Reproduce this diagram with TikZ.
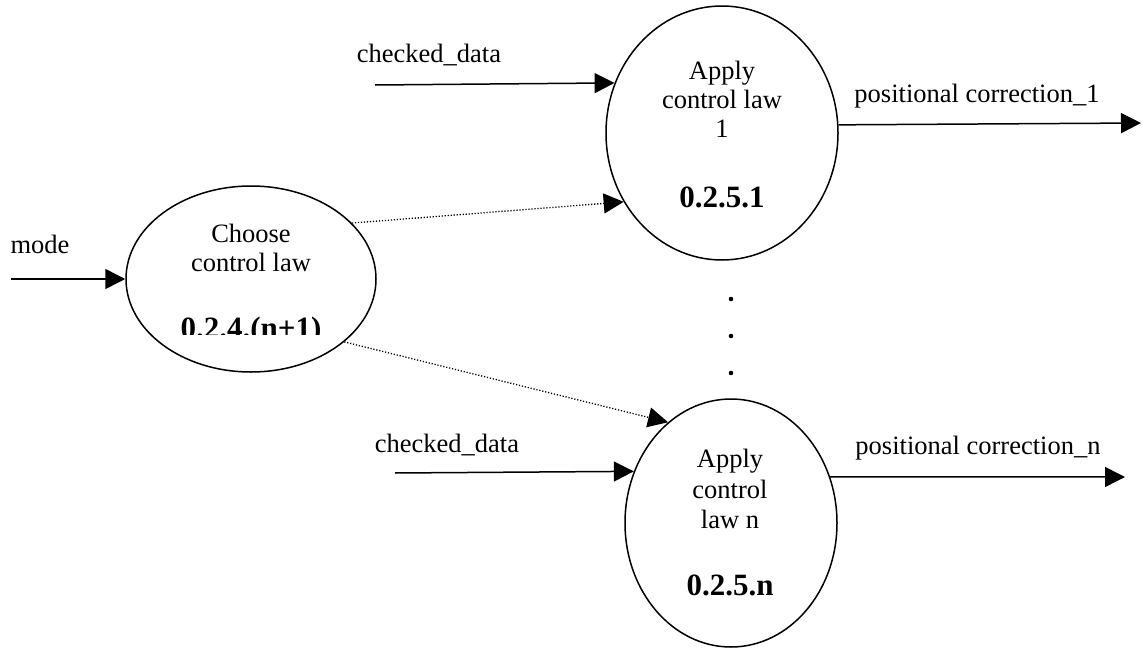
\documentclass[tikz,border=0pt]{standalone}
\usepackage{fontspec}
\setmainfont{Liberation Serif}
\usetikzlibrary{arrows.meta,shapes.geometric}

\tikzset{
  proc/.style={draw, ellipse, line width=0.75pt, inner sep=0pt},
  flow/.style={line width=0.75pt, -{Triangle[length=10pt,width=10pt]}},
  ctrl/.style={line width=0.65pt, dash pattern=on 0.6pt off 0.9pt, -{Triangle[length=10pt,width=10pt]}},
  lbl/.style={inner sep=0pt, anchor=base, font=\fontsize{13.25pt}{15pt}\selectfont},
  num/.style={inner sep=0pt, anchor=base, font=\fontsize{15.5pt}{18pt}\selectfont\bfseries},
}

\begin{document}
\begin{tikzpicture}[x=0.5pt, y=-0.5pt]
  \useasboundingbox[fill=white] (0,0) rectangle (1142,648);

  % processes
  \node[proc, minimum width=125pt, minimum height=93pt] (choose) at (251,279) {};
  \node[proc, minimum width=116pt, minimum height=127pt] (apply1) at (722,133) {};
  \node[proc, minimum width=106pt, minimum height=124pt] (applyn) at (731,523) {};

  % process texts
  \node[lbl] (chooseA) at (251,242) {Choose};
  \node[lbl] (chooseB) at (251,271) {control law};
  \begin{scope}
    \clip (150,290) rectangle (360,334);
    \node[num] (chooseId) at (251,338) {0.2.4.(n+1)};
  \end{scope}

  \node[lbl] (a1A) at (722,79) {Apply};
  \node[lbl] (a1B) at (722,108) {control law};
  \node[lbl] (a1C) at (722,137) {1};
  \node[num] (a1Id) at (722,207) {0.2.5.1};

  \node[lbl] (anA) at (730,467) {Apply};
  \node[lbl] (anB) at (730,498) {control};
  \node[lbl] (anC) at (730,528) {law n};
  \node[num] (anId) at (730,595) {0.2.5.n};

  % free ends of the data flows
  \coordinate (modeIn) at (11,279);
  \coordinate (cd1In) at (375,85);
  \coordinate (cdnIn) at (395,473);
  \coordinate (pc1Out) at (1141,123);
  \coordinate (pcnOut) at (1125,477);

  % data flows
  \draw[flow] (modeIn) -- (choose.west);
  \draw[flow] (cd1In) -- (apply1.155.9);
  \draw[flow] (cdnIn) -- (applyn.152.7);
  \draw[flow] (apply1.4.9) -- (pc1Out);
  \draw[flow] (applyn.25) -- (pcnOut);

  % control flows
  \draw[ctrl] (choose.29.6) -- (apply1.215);
  \draw[ctrl] (choose.-34.4) -- (applyn.122.4);

  % flow labels
  \node[lbl] (modeL) at (40,253) {mode};
  \node[lbl] (cd1L) at (429,62) {checked\_data};
  \node[lbl] (cdnL) at (447,452) {checked\_data};
  \node[lbl] (pc1L) at (977,102) {positional correction\_1};
  \node[lbl] (pcnL) at (978,454) {positional correction\_n};

  % ellipsis between the control-law processes
  \fill (731,299) circle[radius=2.3];
  \fill (731,336) circle[radius=2.3];
  \fill (731,373) circle[radius=2.3];
\end{tikzpicture}
\end{document}
